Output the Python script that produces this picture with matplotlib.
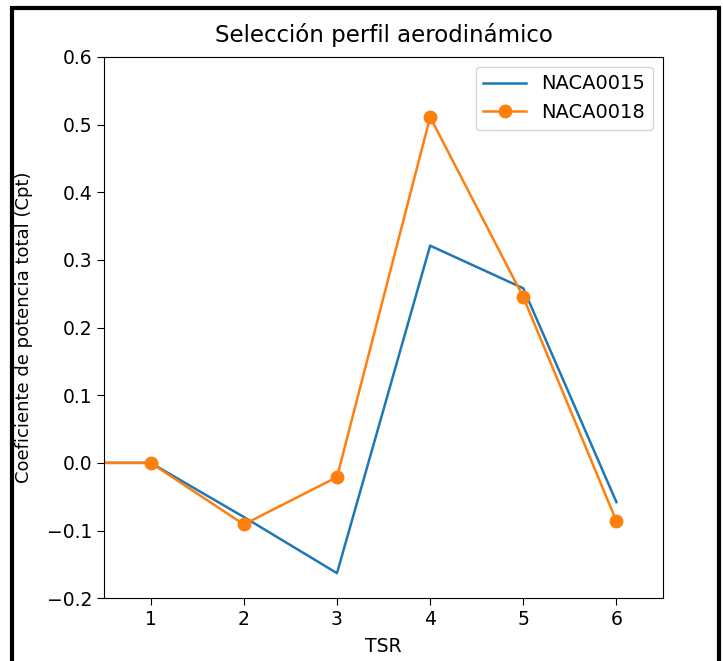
import matplotlib
matplotlib.use("Agg")
import matplotlib.pyplot as plt
from matplotlib.patches import Rectangle

tsr = [0, 1, 2, 3, 4, 5, 6]
naca0015 = [0.0, 0.0, -0.08, -0.163, 0.321, 0.258, -0.058]
naca0018 = [0.0, 0.0, -0.091, -0.021, 0.511, 0.245, -0.086]

fig = plt.figure(figsize=(7.23, 6.61), dpi=100)
ax = fig.add_axes([0.144, 0.095, 0.773, 0.819])

ax.plot(tsr, naca0015, color="#1f77b4", linewidth=1.8, label="NACA0015")
ax.plot(tsr, naca0018, color="#ff7f0e", linewidth=1.8, marker="o", markersize=9,
        label="NACA0018")

ax.set_xlim(0.5, 6.5)
ax.set_ylim(-0.2, 0.6)
ax.set_xticks([1, 2, 3, 4, 5, 6])
ax.tick_params(labelsize=13.5, length=5)
ax.set_title("Selección perfil aerodinámico", fontsize=16.5, pad=11)
ax.set_xlabel("TSR", fontsize=13.5, labelpad=6)
ax.set_ylabel("Coeficiente de potencia total (Cpt)", fontsize=13, labelpad=10)
ax.legend(fontsize=14, loc="upper right", handlelength=2.2)

# black frame of the screenshot
fig.patches.append(Rectangle((0.017, -0.01), 0.977, 0.998, transform=fig.transFigure,
                             fill=False, edgecolor="black", linewidth=3))

fig.savefig("out.png", dpi=100)
